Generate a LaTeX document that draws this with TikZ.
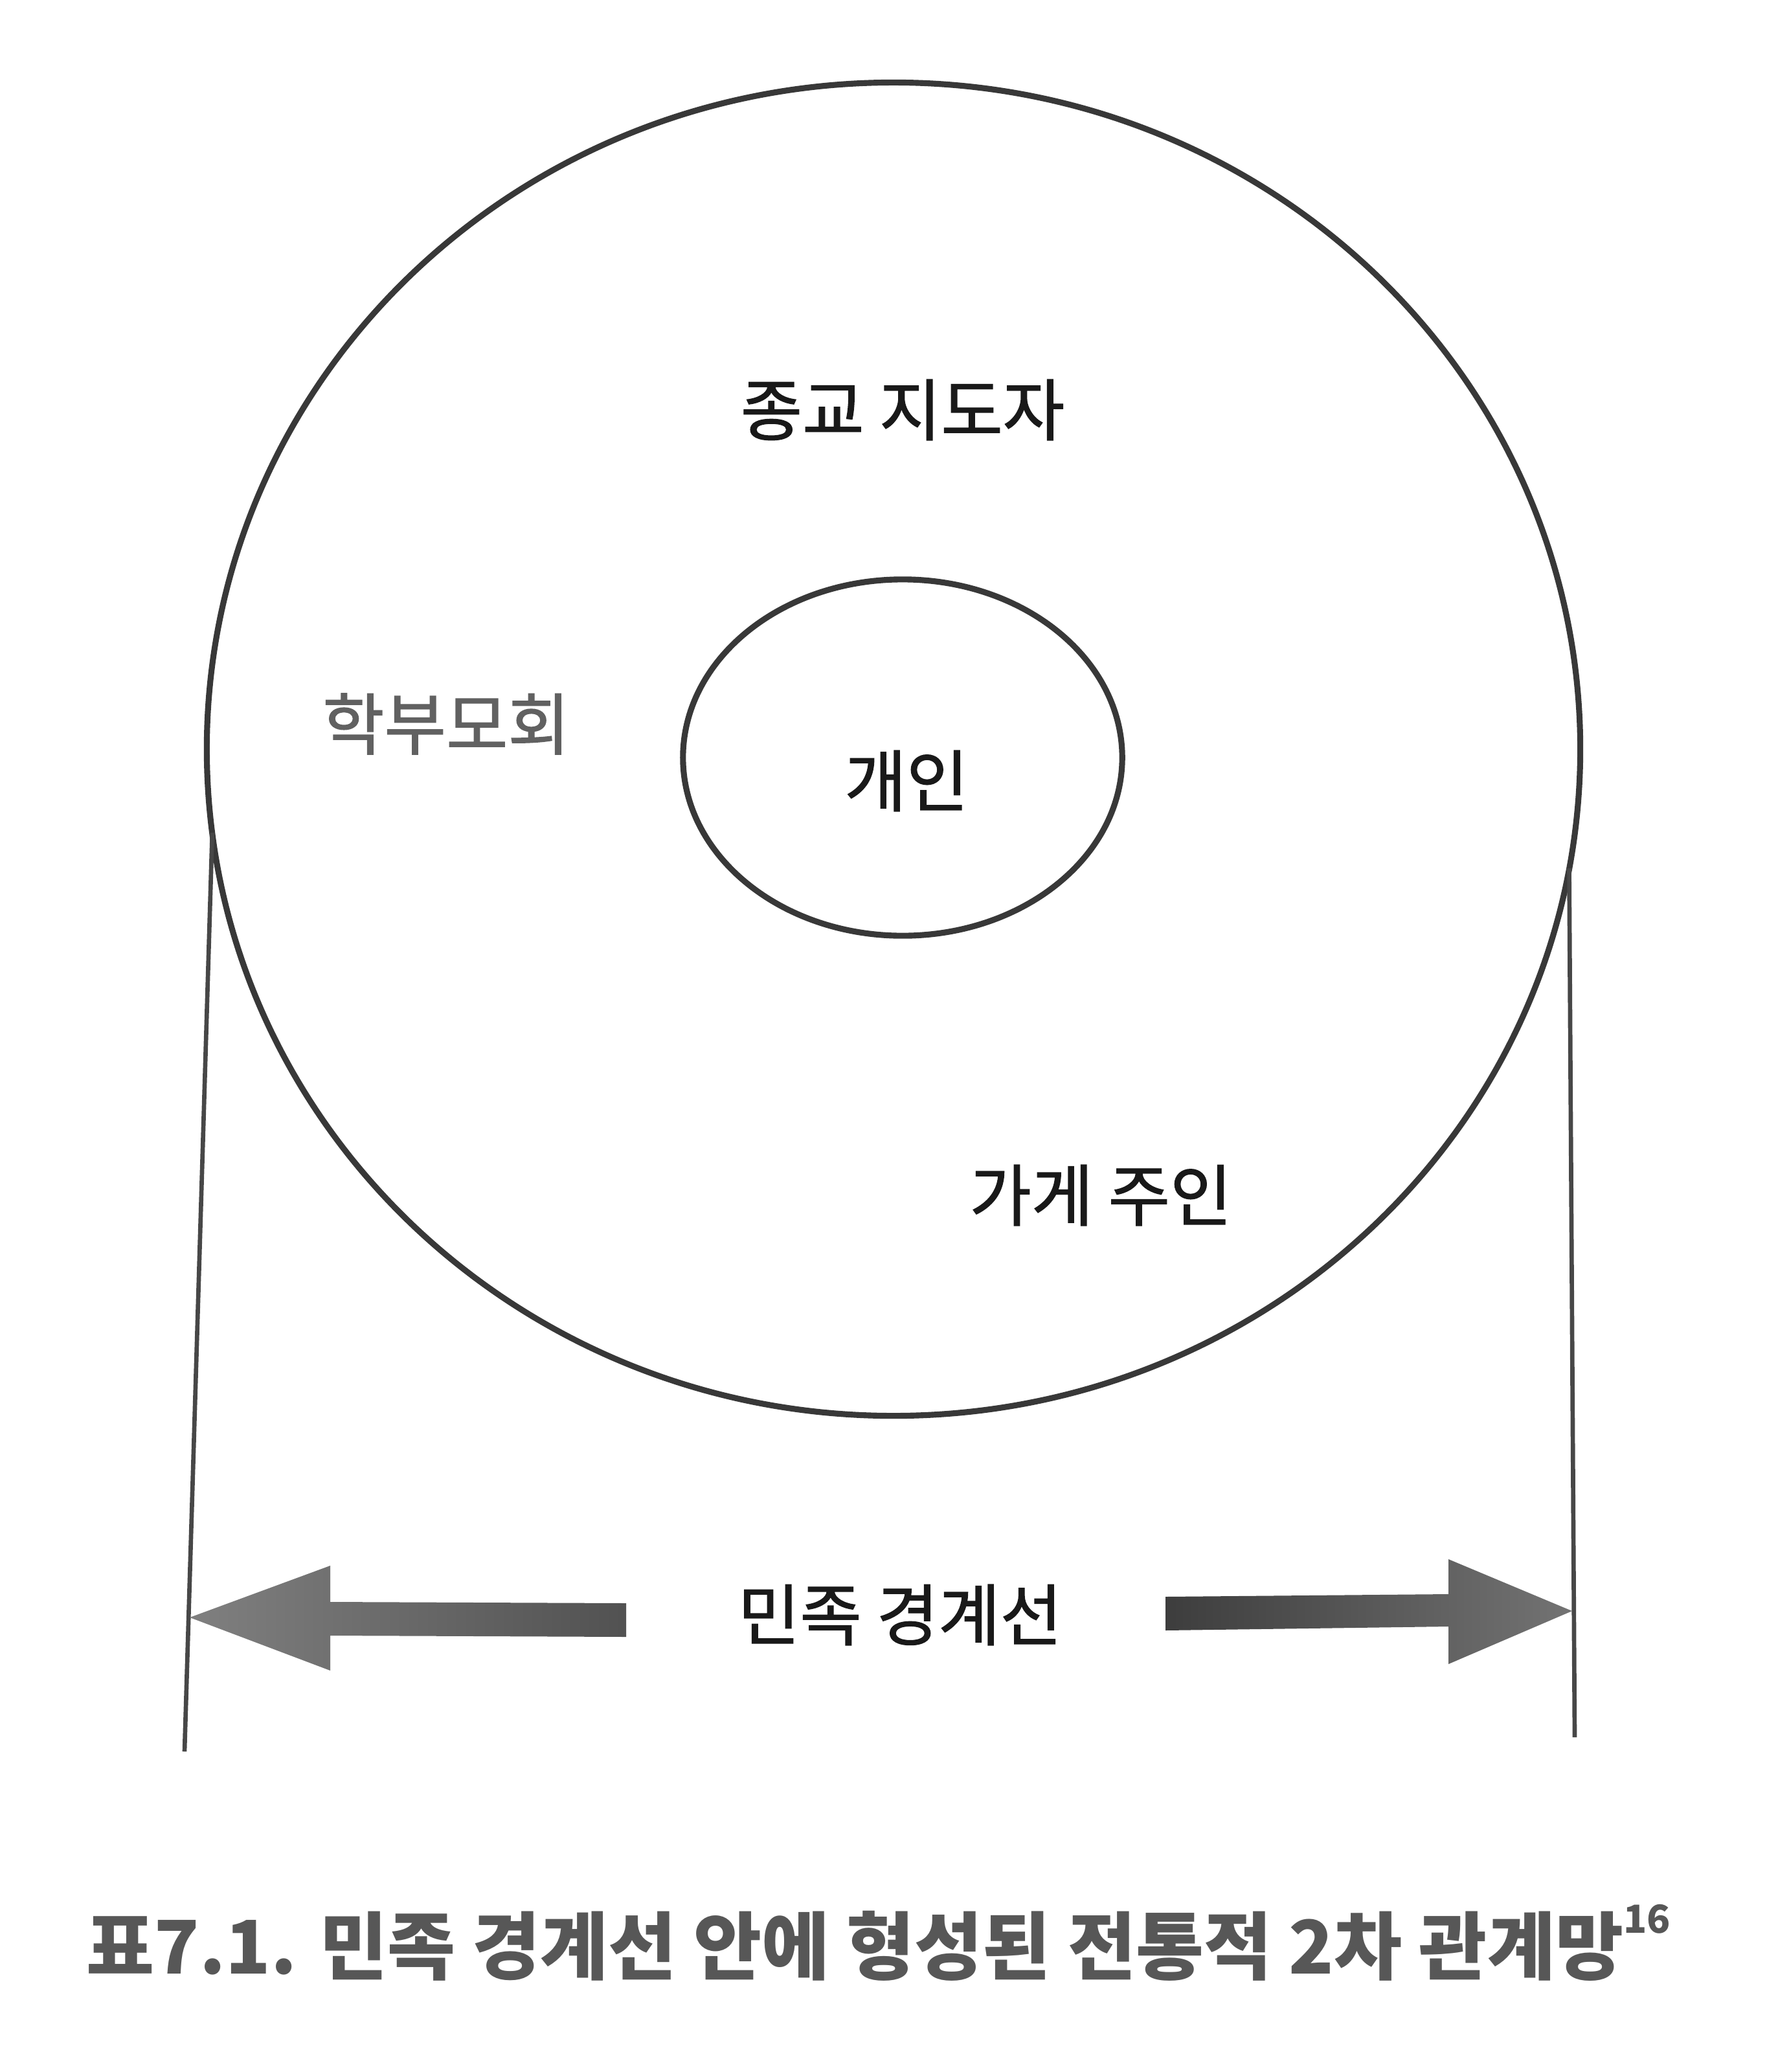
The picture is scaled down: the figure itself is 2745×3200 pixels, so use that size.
\documentclass[tikz,border=0pt]{standalone}
\usepackage{fontspec}
\newfontfamily\cjk{Noto Sans CJK KR}
\newfontfamily\cjkmed[FakeBold=1.3]{Noto Sans CJK KR}
\usetikzlibrary{shapes.geometric, positioning}

\begin{document}
\begin{tikzpicture}[x=0.01cm, y=-0.01cm]
        % Define styles
        \tikzstyle{ring} = [draw=black!78, line width=2.6pt, ellipse, inner sep=0pt, outer sep=0pt]
        \tikzstyle{label} = [font=\cjkmed\fontsize{29.5}{35}\selectfont, text=black!90, inner sep=0pt]
        \tikzstyle{bound} = [draw=black!72, line width=1.9pt]
        \tikzstyle{bigarrow} = [line width=0pt, draw=none]

        \useasboundingbox (0,0) rectangle (2745,3200);

        % Circles
        \node [ring, minimum width=21.2cm, minimum height=20.58cm] (group) at (1380,1157) {};
        \node [ring, minimum width=6.78cm, minimum height=5.5cm] (inner) at (1394,1170) {};

        % Labels
        \node [label] (leader) at (1394,633) {종교 지도자};
        \node [label, text=black!62] (parents) at (689,1118) {학부모회};
        \node [label] (self) at (1400,1206) {개인};
        \node [label] (owner) at (1700,1846) {가게 주인};
        \node [label] (border) at (1390,2494) {민족 경계선};

        % Boundary lines
        \coordinate (lbot) at (285,2705);
        \coordinate (rbot) at (2432,2683);
        \draw [bound] (group.187) -- (lbot);
        \draw [bound] (group.350.6) -- (rbot);

        % Arrows
        \shade [bigarrow, left color=black!50, right color=black!68]
            (293,2498) -- (510,2418) -- (510,2474) -- (967,2476) -- (967,2528) -- (510,2526) -- (510,2580) -- cycle;
        \shade [bigarrow, left color=black!76, right color=black!55]
            (1800,2466) -- (2237,2462) -- (2237,2408) -- (2428,2488) -- (2237,2570) -- (2237,2512) -- (1800,2518) -- cycle;

        % Caption
        \node [font=\cjk\bfseries\fontsize{32.5}{38}\selectfont, text=black!66, inner sep=0pt, anchor=west] (caption) at (133,3000)
            {표7.1. 민족 경계선 안에 형성된 전통적 2차 관계망\raisebox{0.55em}{\fontsize{17}{20}\selectfont 16}};
    \end{tikzpicture}
\end{document}
